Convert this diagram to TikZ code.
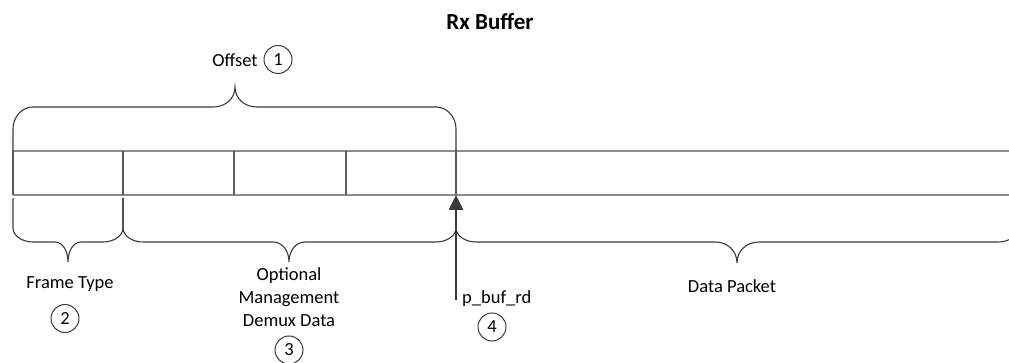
\documentclass[tikz,border=0pt]{standalone}
\usepackage{fontspec}
\setmainfont{Carlito}
\usetikzlibrary{arrows.meta}

\definecolor{rowline}{HTML}{8C8C8C}
\definecolor{cellline}{HTML}{5A5A5A}
\definecolor{inkgray}{HTML}{3A3A3A}

\tikzset{
  txt/.style={font=\fontsize{18.5}{23}\selectfont, text=black, inner sep=0pt},
  heading/.style={font=\bfseries\fontsize{23}{28}\selectfont, text=black, inner sep=0pt},
  marker/.style={circle, draw=inkgray, line width=1pt, minimum size=28pt,
    inner sep=0pt, font=\fontsize{18.5}{23}\selectfont},
  bracepath/.style={draw=inkgray, line width=1.1pt},
  rowedge/.style={draw=rowline, line width=1.8pt},
  celledge/.style={draw=cellline, line width=1.2pt},
  pointer/.style={draw=inkgray, line width=2.6pt,
    -{Triangle[length=15pt,width=14pt]}}
}

% curly brace: x1 y1 (left end), x2 y2 (right end), flat level, tip x, tip y,
% end-curve height, tip half-width
\newcommand\drawbrace[9]{%
  \pgfmathsetmacro\bd{sign(#7-#5)}%
  \pgfmathsetmacro\bh{abs(#7-#5)}%
  \pgfmathsetmacro\yend{#5-\bd*#8}%
  \pgfmathsetmacro\yendc{#5-\bd*#8*0.45}%
  \pgfmathsetmacro\ytipc{#5+\bd*\bh*0.4}%
  \draw[bracepath] (#1,#2) -- (#1,\yend)
    .. controls (#1,\yendc) and ({#1+9},#5) .. ({#1+20},#5)
    -- ({#6-#9},#5)
    .. controls ({#6-#9*0.45},#5) and (#6,\ytipc) .. (#6,#7)
    .. controls (#6,\ytipc) and ({#6+#9*0.45},#5) .. ({#6+#9},#5)
    -- ({#3-20},#5)
    .. controls ({#3-9},#5) and (#3,\yendc) .. (#3,\yend)
    -- (#3,#4);}

\begin{document}
\begin{tikzpicture}[x=1pt,y=-1pt]
  \clip (0,0) rectangle (1009,363);

  % title
  \node[heading, anchor=base] (title) at (490,30) {Rx Buffer};

  % buffer rows
  \draw[rowedge] (13,151) -- (1009,151);
  \draw[rowedge] (13,195) -- (1009,195);
  % cell dividers
  \foreach \cx in {13,123,234,346,456}
    \draw[celledge] (\cx,151) -- (\cx,195);

  % braces
  \drawbrace{13}{151}{456}{151}{107}{235}{87}{22}{22}
  \drawbrace{13}{198}{123}{198}{242}{68}{262}{14}{13}
  \drawbrace{123}{198}{456}{226}{242}{289}{262}{14}{16}
  \drawbrace{456}{226}{1018}{198}{242}{737}{263}{14}{22}

  % read pointer
  \coordinate (ptrtail) at (456,300);
  \coordinate (ptrhead) at (456,195);
  \draw[pointer] (ptrtail) -- (ptrhead);

  % labels
  \node[txt, anchor=base] (offset) at (235,66.7) {Offset};
  \node[marker] (m1) at (278,59.5) {1};

  \node[txt, anchor=base] (ftype) at (70,289) {Frame Type};
  \node[marker] (m2) at (65,318.5) {2};

  \node[txt, anchor=north, align=center] (mgmt) at (289,267)
    {Optional\\Management\\Demux Data};
  \node[marker] (m3) at (289,350) {3};

  \node[txt, anchor=base west] (pbuf) at (462,304) {p\_buf\_rd};
  \node[marker] (m4) at (492,327) {4};

  \node[txt, anchor=base] (dpkt) at (732,293) {Data Packet};
\end{tikzpicture}
\end{document}
